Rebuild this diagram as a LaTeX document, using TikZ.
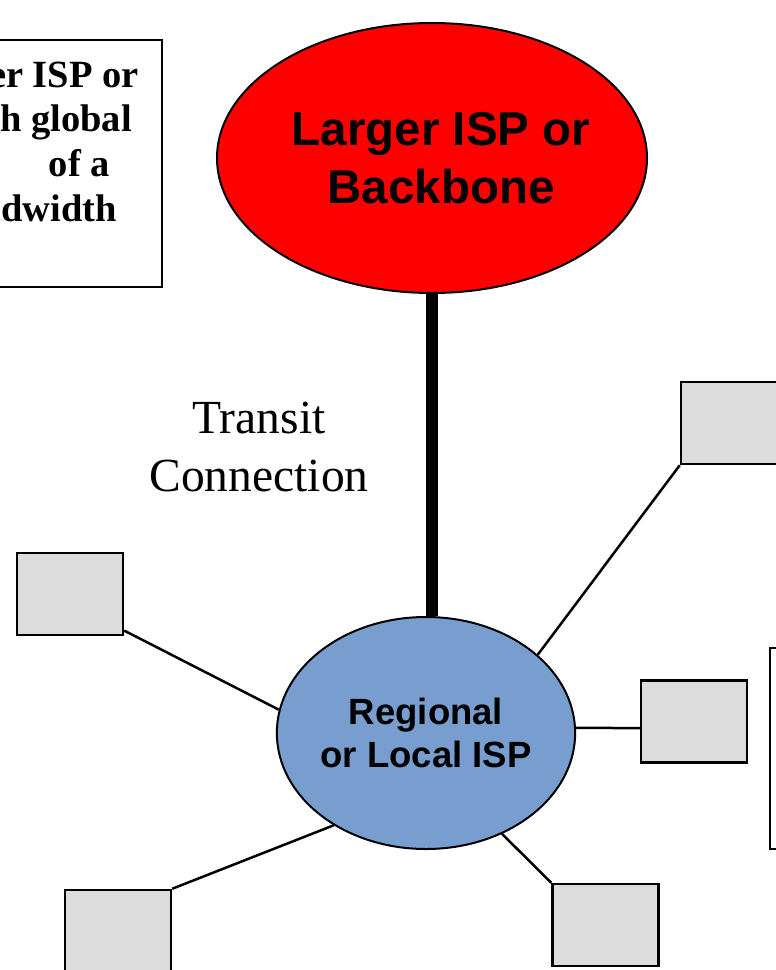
\documentclass[tikz,border=0pt]{standalone}
\usepackage{fontspec}
\setmainfont{Liberation Serif}
\setsansfont{Liberation Sans}
\usepackage{tikz}
\usetikzlibrary{shapes.geometric}
\definecolor{ispblue}{RGB}{119,158,207}
\definecolor{pcgray}{RGB}{220,220,220}

\begin{document}
\begin{tikzpicture}[x=1bp, y=-1bp,
    isp/.style={ellipse, draw=black, line width=2bp, inner sep=0pt, align=center,
      font=\sffamily\bfseries},
    pc/.style={rectangle, draw=black, line width=2.5bp, fill=pcgray,
      minimum width=106bp, minimum height=82bp, inner sep=0pt},
    link/.style={draw=black, line width=2.5bp},
    notetext/.style={anchor=base east, inner sep=0pt,
      font=\fontsize{38.5bp}{44bp}\selectfont\bfseries}]
  \clip (0,0) rectangle (776,970);
  \fill[white] (0,0) rectangle (776,970);
  % boxes at the edges
  \node[draw=black, line width=2.5bp, minimum width=362bp, minimum height=247bp] (note) at (-19,163.5) {};
  \node[notetext] (note1) at (139,87) {er ISP or};
  \node[notetext] (note2) at (132,131) {h global};
  \node[notetext] (note3) at (110,176) {of a};
  \node[notetext] (note4) at (117,221) {dwidth};
  \node[draw=black, line width=2.5bp, minimum width=130bp, minimum height=201bp] (side) at (835,748.5) {};
  % the two ISPs
  \node[isp, fill=red, minimum width=430bp, minimum height=270bp] (backbone) at (432,158) {};
  \node[align=center, font=\sffamily\bfseries\fontsize{47.5bp}{58bp}\selectfont] (backbonetext) at (441,158) {Larger ISP or\\Backbone};
  \node[isp, fill=ispblue, minimum width=282bp, minimum height=232bp,
    font=\sffamily\bfseries\fontsize{36.5bp}{43bp}\selectfont] (regional) at (426,733) {Regional\\or Local ISP};
  \draw[line width=12bp] (backbone.south) -- (backbone.south |- regional.north);
  \node[font=\fontsize{47.5bp}{57bp}\selectfont, align=center] (transit) at (259,447) {Transit\\Connection};
  % customers
  \node[pc] (lbox) at (70,594) {};
  \node[pc] (trbox) at (734,423) {};
  \node[pc] (rbox) at (694,721.5) {};
  \node[pc] (blbox) at (118,931) {};
  \node[pc] (brbox) at (605.5,925) {};
  \draw[link] (lbox.-34) -- (regional.171);
  \draw[link] (trbox.south west) -- (regional.35);
  \draw[link] (rbox.187) -- (regional.2);
  \draw[link] (blbox.north east) -- (regional.225);
  \draw[link] (brbox.north west) -- (regional.307);
\end{tikzpicture}
\end{document}
